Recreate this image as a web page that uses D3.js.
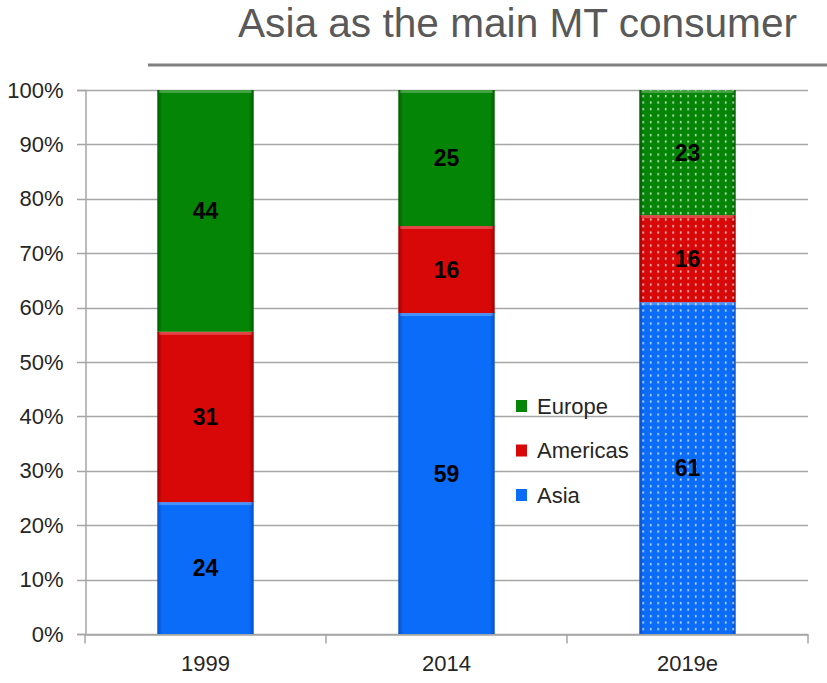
<!DOCTYPE html>
<html><head><meta charset="utf-8">
<script src="https://cdn.jsdelivr.net/npm/d3@7"></script>
<style>
html,body{margin:0;padding:0;background:#fff;}
svg{display:block;}
text{font-family:"Liberation Sans","Arial",sans-serif;}
</style></head>
<body>
<svg id="chart" width="827" height="683"></svg>
<script>
const categories = ["1999", "2014", "2019e"];
const seriesNames = ["Asia", "Americas", "Europe"];
const asia = [24, 59, 61];
const americas = [31, 16, 16];
const europe = [44, 25, 23];
const yTicks = [0, 0.1, 0.2, 0.3, 0.4, 0.5, 0.6, 0.7, 0.8, 0.9, 1.0];
const estimated = [false, false, true];
const title = "Asia as the main MT consumer";

const colors = {Asia: ["#0650c8", "#0a6cf8", "#0650c8"], Americas: ["#a00000", "#d80808", "#a00000"], Europe: ["#005c00", "#058505", "#005c00"]};
const flat = {Asia: "#0a6cf8", Americas: "#d80808", Europe: "#058505"};

const svg = d3.select("#chart");
const margin = {left: 85, right: 19, top: 90, bottom: 49};
const W = 827, H = 683;
const x = d3.scaleBand().domain(categories).range([margin.left, W - margin.right]).paddingInner(0.6).paddingOuter(0.3);
const xb = d3.scaleBand().domain(categories).range([margin.left, W - margin.right]);
const y = d3.scaleLinear().domain([0, 1]).range([H - margin.bottom, margin.top]);

const rows = categories.map((c, i) => ({cat: c, est: estimated[i], Asia: asia[i], Americas: americas[i], Europe: europe[i]}));
const stack = d3.stack().keys(seriesNames).offset(d3.stackOffsetExpand);
const layers = stack(rows);

const defs = svg.append("defs");
seriesNames.forEach(s => {
  const g = defs.append("linearGradient").attr("id", "g-" + s).attr("x1", 0).attr("x2", 1).attr("y1", 0).attr("y2", 0);
  g.append("stop").attr("offset", 0).attr("stop-color", colors[s][0]);
  g.append("stop").attr("offset", 0.05).attr("stop-color", colors[s][1]);
  g.append("stop").attr("offset", 0.95).attr("stop-color", colors[s][1]);
  g.append("stop").attr("offset", 1).attr("stop-color", colors[s][0]);
});
const pat = defs.append("pattern").attr("id", "dots").attr("patternUnits", "userSpaceOnUse")
  .attr("width", 7.5).attr("height", 6.5).attr("x", 3).attr("y", 2);
pat.append("rect").attr("x", 2).attr("y", 2).attr("width", 1.4).attr("height", 2.2).attr("fill", "#fff").attr("opacity", 0.9);

// Title
svg.append("text").attr("x", 517.5).attr("y", 37).attr("text-anchor", "middle")
  .attr("font-size", 40).attr("fill", "#595959")
  .attr("textLength", 559).attr("lengthAdjust", "spacingAndGlyphs").text(title);
svg.append("line").attr("x1", 148).attr("x2", 827).attr("y1", 65).attr("y2", 65)
  .attr("stroke", "#808080").attr("stroke-width", 3);

// gridlines
svg.append("g").selectAll("line").data(yTicks).join("line")
  .attr("x1", margin.left - 8).attr("x2", W - margin.right)
  .attr("y1", d => Math.round(y(d)) + 0.5).attr("y2", d => Math.round(y(d)) + 0.5)
  .attr("stroke", "#a6a6a6").attr("stroke-width", 1.5);

// y axis
const yAxis = d3.axisLeft(y).tickValues(yTicks).tickFormat(d3.format(".0%")).tickSize(8).tickPadding(14);
const ya = svg.append("g").attr("transform", `translate(${margin.left + 0.5},0)`).call(yAxis);
ya.select(".domain").attr("stroke", "#a6a6a6").attr("stroke-width", 1.5);
ya.selectAll(".tick line").remove();
ya.selectAll("text").attr("font-size", 22).attr("fill", "#262626")
  .style("font-family", "'Liberation Sans',Arial,sans-serif");

// x axis
const xAxis = d3.axisBottom(xb).tickSize(0).tickPadding(21);
const xa = svg.append("g").attr("transform", `translate(0,${y(0) + 0.5})`).call(xAxis);
xa.select(".domain").attr("stroke", "#a6a6a6").attr("stroke-width", 1.5);
xa.selectAll("text").attr("font-size", 22).attr("fill", "#262626")
  .style("font-family", "'Liberation Sans',Arial,sans-serif");
xa.append("g").selectAll("line").data(categories.concat(["__end"])).join("line")
  .attr("x1", (d, i) => i < categories.length ? xb(d) : xb.range()[1])
  .attr("x2", (d, i) => i < categories.length ? xb(d) : xb.range()[1])
  .attr("y1", 0).attr("y2", 9).attr("stroke", "#a6a6a6").attr("stroke-width", 1.5);

// bars
const bars = svg.append("g");
layers.forEach(layer => {
  const s = layer.key;
  const g = bars.append("g");
  layer.forEach(d => {
    const x0 = x(d.data.cat), bw = x.bandwidth();
    const yt = y(d[1]), yb = y(d[0]);
    g.append("rect").attr("x", x0).attr("y", yt).attr("width", bw).attr("height", yb - yt)
      .attr("fill", `url(#g-${s})`);
    g.append("rect").attr("x", x0 + 2).attr("y", yt).attr("width", bw - 4).attr("height", 3)
      .attr("fill", "#fff").attr("opacity", 0.25);
    if (d.data.est) {
      g.append("rect").attr("x", x0).attr("y", yt).attr("width", bw).attr("height", yb - yt)
        .attr("fill", "url(#dots)");
    }
    g.append("text").attr("x", x0 + bw / 2).attr("y", (yt + yb) / 2).attr("dy", "0.36em")
      .attr("text-anchor", "middle").attr("font-size", 23).attr("font-weight", "bold").attr("fill", "#000")
      .text(d.data[s]);
  });
});

// legend
const legendItems = ["Europe", "Americas", "Asia"];
const lg = svg.append("g").attr("transform", "translate(516,400)");
legendItems.forEach((s, i) => {
  const r = lg.append("g").attr("transform", `translate(0,${i * 44.5})`);
  r.append("rect").attr("x", 0).attr("y", 0).attr("width", 11).attr("height", 12).attr("fill", flat[s]);
  r.append("text").attr("x", 21).attr("y", 6).attr("dy", "0.35em").attr("font-size", 22).attr("fill", "#262626").text(s);
});
</script>
</body></html>
